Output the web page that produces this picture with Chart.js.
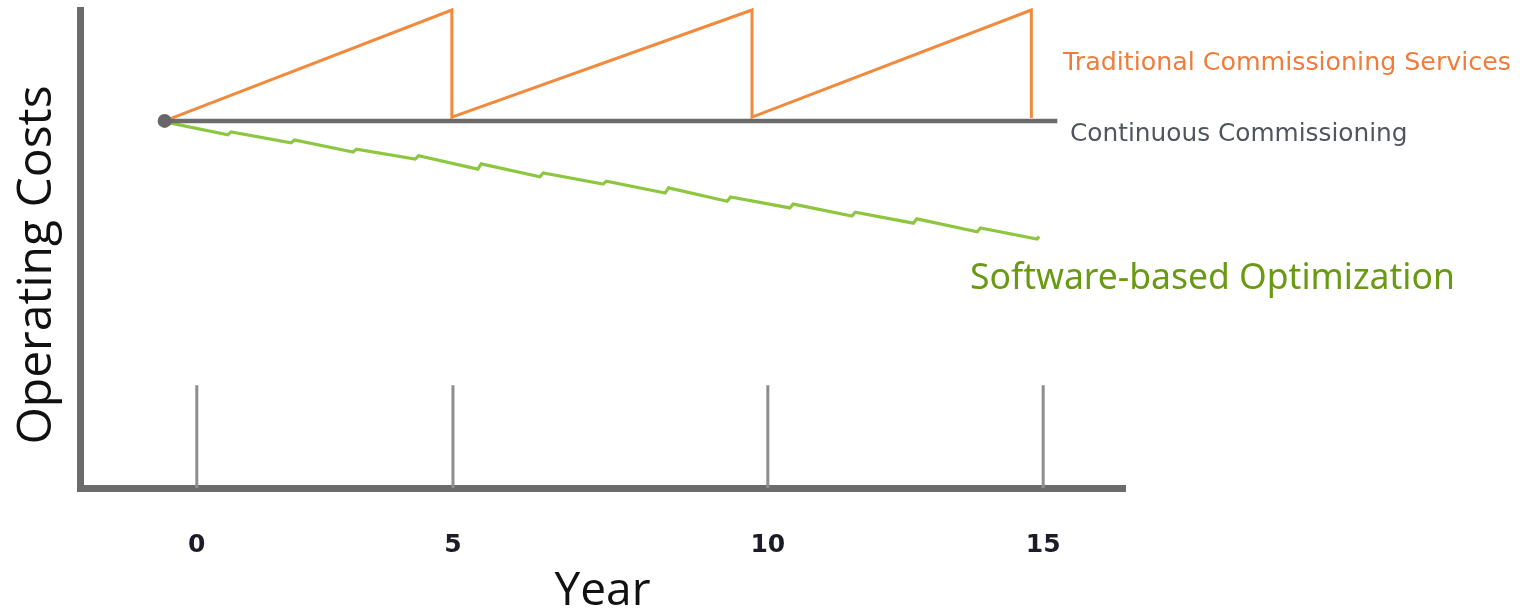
<!DOCTYPE html>
<html><head><meta charset="utf-8">
<script src="https://cdn.jsdelivr.net/npm/chart.js@4.4.1/dist/chart.umd.min.js"></script>
<style>html,body{margin:0;padding:0;background:#fff;}#wrap{width:1522px;height:615px;}</style>
</head><body><div id="wrap"><canvas id="c" width="1522" height="615"></canvas></div>
<script>
// ---- data (x in "year" units of the drawn axis, y in relative cost units 0..100) ----
const tickPositions = [0, 4.54, 10.12, 15];
const tickLabels = ['0', '5', '10', '15'];
const tickMarkTop = 21.5;

const startPoint = [-0.57, 76.8];

const traditionalX = [-0.57, 4.52, 4.52, 9.84, 9.84, 14.79, 14.79];
const traditionalY = [76.8, 100, 77.6, 100, 77.6, 100, 77.4];

const continuousX = [-0.57, 15.25];
const continuousY = [76.8, 76.8];

const softwareX = [-0.57, 0.55, 0.61, 1.67, 1.73, 2.77, 2.83, 3.87, 3.93, 4.98, 5.04, 6.08, 6.14,
  7.20, 7.26, 8.30, 8.36, 9.40, 9.46, 10.51, 10.57, 11.61, 11.67, 12.70, 12.76, 13.83, 13.89, 14.89, 14.93];
const softwareY = [76.6, 73.9, 74.5, 72.2, 72.8, 70.3, 70.9, 68.8, 69.5, 66.7, 67.8, 65.1, 65.9,
  63.6, 64.2, 61.7, 62.8, 60.0, 60.9, 58.6, 59.4, 56.9, 57.7, 55.4, 56.3, 53.6, 54.4, 52.1, 52.6];

const labels = {
  traditional: 'Traditional Commissioning Services',
  continuous: 'Continuous Commissioning',
  software: 'Software-based Optimization',
  xTitle: 'Year',
  yTitle: 'Operating Costs'
};

// ---- build datasets ----
const zip = (xs, ys) => xs.map((x, i) => ({x: x, y: ys[i]}));
const tickMarkData = [];
tickPositions.forEach(t => { tickMarkData.push({x: t, y: 0}, {x: t, y: tickMarkTop}, {x: t, y: null}); });

const textPlugin = {
  id: 'texts',
  afterDraw(chart) {
    const ctx = chart.ctx;
    ctx.save();
    ctx.textAlign = 'left';
    ctx.textBaseline = 'alphabetic';
    ctx.font = '25.3px "DejaVu Sans"';
    ctx.fillStyle = '#f07c3c';
    ctx.fillText(labels.traditional, 1063, 70);
    ctx.font = '24.8px "DejaVu Sans"';
    ctx.fillStyle = '#50565e';
    ctx.fillText(labels.continuous, 1070, 141);
    ctx.font = '35.5px "Noto Sans"';
    ctx.fillStyle = '#6a9a12';
    ctx.fillText(labels.software, 970, 289);
    // y title
    ctx.translate(51, 265);
    ctx.rotate(-Math.PI / 2);
    ctx.textAlign = 'center';
    ctx.font = '48px "Open Sans"';
    ctx.fillStyle = '#111';
    ctx.fillText(labels.yTitle, 0, 0);
    ctx.restore();
  }
};

new Chart(document.getElementById('c'), {
  type: 'scatter',
  data: {
    datasets: [
      {data: [{x: startPoint[0], y: startPoint[1]}], showLine: false, pointRadius: 7, pointBackgroundColor: '#666', pointBorderWidth: 0, clip: false},
      {data: zip(continuousX, continuousY), showLine: true, borderColor: '#6b6b6b', borderWidth: 4.5, pointRadius: 0, clip: false},
      {data: zip(traditionalX, traditionalY), showLine: true, borderColor: '#f18a3d', borderWidth: 3, pointRadius: 0, clip: false, borderJoinStyle: 'miter'},
      {data: zip(softwareX, softwareY), showLine: true, borderColor: '#8dc63f', borderWidth: 3.2, pointRadius: 0, clip: false},
      {data: tickMarkData, showLine: true, spanGaps: false, borderColor: '#8e8e8e', borderWidth: 3, pointRadius: 0, clip: false}
    ]
  },
  options: {
    responsive: false,
    animation: false,
    events: [],
    layout: {padding: {left: 80, right: 397, top: 10, bottom: 0}},
    plugins: {legend: {display: false}, tooltip: {enabled: false}},
    scales: {
      x: {
        type: 'linear', min: -2.07, max: 16.45, z: 1,
        afterBuildTicks: s => { s.ticks = tickPositions.map(v => ({value: v})); },
        ticks: {callback: (v, i) => tickLabels[i], font: {family: 'DejaVu Sans', size: 25, weight: 'bold', lineHeight: 1.2}, color: '#1c1c28', padding: 42, maxRotation: 0, autoSkip: false},
        grid: {display: false, drawTicks: false},
        border: {color: '#6b6b6b', width: 7},
        title: {display: true, text: labels.xTitle, font: {family: 'Open Sans', size: 46, lineHeight: 1.0}, color: '#111', padding: {top: -33, bottom: 0}}
      },
      y: {
        type: 'linear', min: 0, max: 100, z: 1,
        ticks: {display: false},
        grid: {display: false, drawTicks: false},
        border: {color: '#6b6b6b', width: 7}
      }
    }
  },
  plugins: [textPlugin]
});
</script></body></html>
